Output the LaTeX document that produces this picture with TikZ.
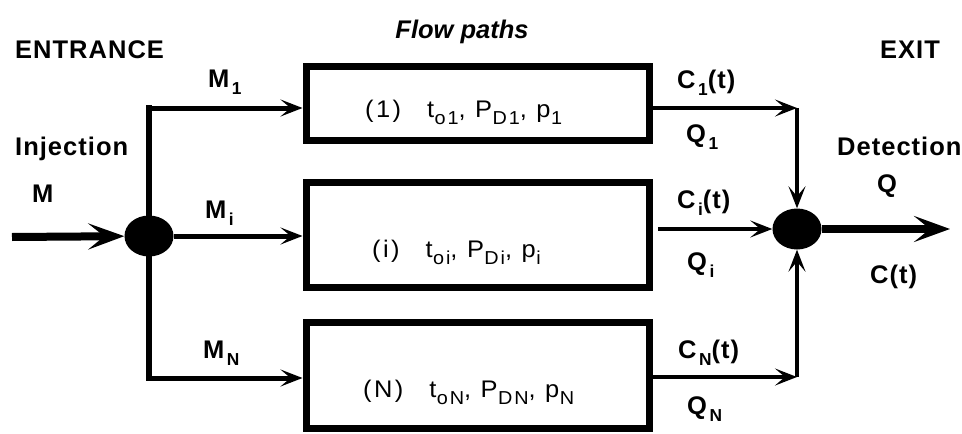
\documentclass[tikz,border=0pt]{standalone}
\usepackage{fontspec}
\setmainfont{Liberation Sans}
\usetikzlibrary{arrows.meta,shapes.geometric}
% lowered, reduced indices: one for the labels, one for the box texts
\newcommand\lo[1]{\kern2.5pt\raisebox{-0.28em}{\scalebox{0.68}{#1}}}
\newcommand\lb[1]{\kern0.5pt\raisebox{-0.32em}{\scalebox{0.78}{#1}}}
\begin{document}
\begin{tikzpicture}[x=1pt,y=-1pt,
  lbl/.style={font=\fontsize{25.5}{30}\selectfont\bfseries\addfontfeatures{LetterSpace=4}, inner sep=0pt, anchor=base west},
  boxtxt/.style={font=\fontsize{24}{28}\selectfont\addfontfeatures{LetterSpace=10,FakeStretch=1.06}, inner sep=0pt, anchor=base west},
  pathbox/.style={draw, line width=7pt, minimum width=343pt, inner sep=0pt},
  junction/.style={ellipse, fill=black, inner sep=0pt, minimum width=49pt, minimum height=41pt},
  tipsm/.style={-{Stealth[length=22pt,width=17pt,inset=10pt]}},
  tipbig/.style={-{Stealth[length=36pt,width=26pt,inset=16pt]}},
  feed/.style={line width=5pt, tipsm},
  drain/.style={line width=4.5pt, tipsm},
  main/.style={line width=8pt, tipbig}]
\useasboundingbox (0,0) rectangle (962,434);

% flow path boxes
\node[pathbox, minimum height=74pt]  (b1) at (477.5,103) {};
\node[pathbox, minimum height=105pt] (b2) at (477.5,234.5) {};
\node[pathbox, minimum height=106pt] (b3) at (477.5,375) {};

\node[boxtxt] (t1) at (365,117) {(1)\hspace{26pt}t\lb{o1}, P\lb{D1}, p\lb{1}};
\node[boxtxt] (t2) at (372,257) {(i)\hspace{26pt}t\lb{oi}, P\lb{Di}, p\lb{i}};
\node[boxtxt] (t3) at (363,397) {(N)\hspace{26pt}t\lb{oN}, P\lb{DN}, p\lb{N}};

% entrance side
\coordinate (in) at (12,237);
\coordinate (bt) at (149,108);
\coordinate (bb) at (149,378);
\draw[line width=6.5pt, line cap=rect] (bt) -- (bb);
\node[junction] (J1) at (149,236) {};
\draw[main] (in) -- (J1);
\draw[feed] (bt) -- (b1.west |- bt);
\draw[feed] (J1) -- (b2.west |- J1);
\draw[feed] (bb) -- (b3.west |- bb);

% exit side
\node[junction] (J2) at (797,229) {};
\coordinate (ct) at (797,108);
\coordinate (cb) at (797,377);
\coordinate (o2) at (658,229);
\coordinate (out) at (950,229);
\draw[drain] (b1.east |- ct) -- (ct);
\draw[drain] (ct) -- (J2);
\draw[drain] (o2) -- (J2);
\draw[drain] (b3.east |- cb) -- (cb);
\draw[drain] (cb) -- (J2);
\draw[main] (J2) -- (out);

% headings and labels
\node[lbl] (entr) at (15,58) {ENTRANCE};
\node[lbl, anchor=base, font=\fontsize{25.5}{30}\selectfont\bfseries\itshape] (fp) at (462,38) {Flow paths};
\node[lbl] (exit) at (880,58) {EXIT};
\node[lbl] (inj) at (15,155) {Injection};
\node[lbl] (m) at (32,202) {M};
\node[lbl] (m1) at (208,87) {M\lo{1}};
\node[lbl] (mi) at (205,218) {M\lo{i}};
\node[lbl] (mn) at (203,358) {M\lo{N}};
\node[lbl] (c1) at (677,88) {C\lo{1}(t)};
\node[lbl] (q1) at (686,142) {Q\lo{1}};
\node[lbl] (ci) at (677,208) {C\lo{i}(t)};
\node[lbl] (qi) at (687,270) {Q\lo{i}};
\node[lbl] (cn) at (678,358) {C\lo{N}(t)};
\node[lbl] (qn) at (687,414) {Q\lo{N}};
\node[lbl] (det) at (837,155) {Detection};
\node[lbl] (q) at (877,192) {Q};
\node[lbl] (ct2) at (870,283) {C(t)};
\end{tikzpicture}
\end{document}
